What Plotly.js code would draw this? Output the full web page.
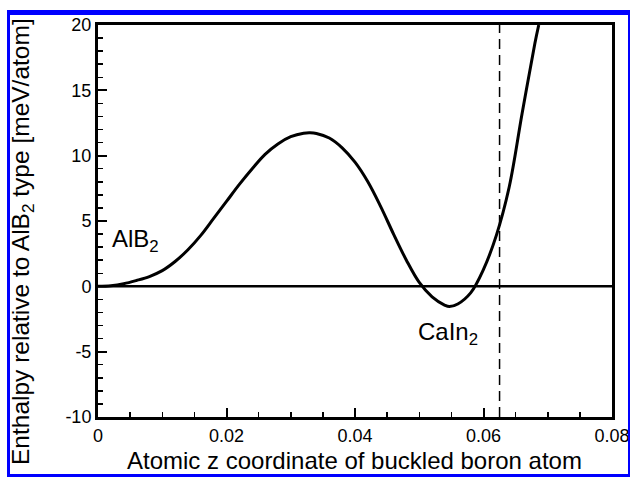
<!DOCTYPE html>
<html>
<head>
<meta charset="utf-8">
<script src="https://cdn.plot.ly/plotly-3.0.1.min.js"></script>
<style>
html,body{margin:0;padding:0;background:#fff;}
#chart{width:630px;height:477px;}
</style>
</head>
<body>
<div id="chart"></div>
<script>
// Buckled boron z coordinate vs enthalpy
const zCoord = [0, 0.002, 0.004, 0.006, 0.008, 0.010, 0.012, 0.014, 0.016, 0.018, 0.020, 0.022, 0.024, 0.026, 0.028, 0.030, 0.032, 0.033, 0.034, 0.036, 0.038, 0.040, 0.042, 0.044, 0.046, 0.048, 0.050, 0.052, 0.054, 0.0547, 0.056, 0.058, 0.060, 0.062, 0.064, 0.066, 0.068, 0.0686];
const enthalpy = [0, 0.05, 0.2, 0.45, 0.75, 1.2, 1.9, 2.8, 3.9, 5.2, 6.5, 7.8, 9.0, 10.1, 10.9, 11.45, 11.72, 11.75, 11.7, 11.35, 10.6, 9.5, 8.0, 6.1, 4.0, 2.0, 0.3, -0.8, -1.45, -1.55, -1.35, -0.5, 1.3, 3.9, 7.6, 13.2, 18.6, 20];
const dashedX = 0.0625;
const xTicks = [0, 0.02, 0.04, 0.06, 0.08];
const xTickText = ['0', '0.02', '0.04', '0.06', '0.08'];
const yTicks = [-10, -5, 0, 5, 10, 15, 20];
const yTickText = ['-10', '-5', '0', '5', '10', '15', '20'];
const labels = ['AlB<sub>2</sub>', 'CaIn<sub>2</sub>'];
const labelX = [0.0058, 0.0545];
const labelY = [3.5, -3.6];
const xTitle = 'Atomic z coordinate of buckled boron atom';
const yTitle = 'Enthalpy relative to AlB<sub>2</sub> type [meV/atom]';

const FONT = 'Liberation Sans, Arial, Helvetica, sans-serif';
// plot area pixel geometry (for border/title placement in paper coords)
const W = 630, H = 477, L = 98, R = 18, T = 25, B = 60;
const pw = W - L - R, ph = H - T - B;
const px = v => (v - L) / pw;
const py = v => (H - B - v) / ph;

const traces = [
  {x: zCoord, y: enthalpy, mode: 'lines', line: {color: '#000', width: 3, shape: 'spline', smoothing: 1}, hoverinfo: 'skip'}
];

const blue = '#0000ff';
const annotations = labels.map((t, i) => ({
  x: labelX[i], y: labelY[i], xref: 'x', yref: 'y', text: t, showarrow: false,
  font: {size: 24, family: FONT, color: '#000'}
}));
annotations.push({
  x: px(354), y: py(460), xref: 'paper', yref: 'paper', text: xTitle, showarrow: false,
  xanchor: 'center', yanchor: 'middle', font: {size: 24, family: FONT, color: '#000'}
});
annotations.push({
  x: px(22), y: py(242), xref: 'paper', yref: 'paper', text: yTitle, showarrow: false,
  textangle: -90, xanchor: 'center', yanchor: 'middle', font: {size: 24.5, family: FONT, color: '#000'}
});

const layout = {
  width: W, height: H,
  margin: {l: L, r: R, t: T, b: B, pad: 0},
  paper_bgcolor: '#fff', plot_bgcolor: '#fff',
  showlegend: false,
  font: {family: FONT, color: '#000'},
  xaxis: {
    range: [0, 0.08], tickvals: xTicks, ticktext: xTickText,
    ticks: 'inside', ticklen: 9, tickwidth: 2, tickcolor: '#000',
    minor: {dtick: 0.005, tick0: 0, ticks: 'inside', ticklen: 5, tickwidth: 1.5, tickcolor: '#000'},
    showgrid: false, zeroline: false,
    showline: true, linecolor: '#000', linewidth: 3, mirror: true,
    tickfont: {size: 18, family: FONT}
  },
  yaxis: {
    range: [-10, 20], tickvals: yTicks, ticktext: yTickText,
    ticks: 'inside', ticklen: 9, tickwidth: 2, tickcolor: '#000',
    minor: {dtick: 1, tick0: 0, ticks: 'inside', ticklen: 5, tickwidth: 1.5, tickcolor: '#000'},
    showgrid: false, zeroline: false,
    showline: true, linecolor: '#000', linewidth: 3, mirror: true,
    tickfont: {size: 18, family: FONT}
  },
  shapes: [
    {type: 'line', xref: 'paper', yref: 'y', x0: 0, x1: 1, y0: 0, y1: 0, line: {color: '#000', width: 2.5}},
    {type: 'line', xref: 'x', yref: 'paper', x0: dashedX, x1: dashedX, y0: 0, y1: 1, line: {color: '#000', width: 1.5, dash: '10px,6px'}},
    // blue outer frame
    {type: 'rect', xref: 'paper', yref: 'paper', x0: px(7), x1: px(630), y0: py(10), y1: py(15), fillcolor: blue, line: {width: 0}},
    {type: 'rect', xref: 'paper', yref: 'paper', x0: px(7), x1: px(10), y0: py(10), y1: py(477), fillcolor: blue, line: {width: 0}},
    {type: 'rect', xref: 'paper', yref: 'paper', x0: px(7), x1: px(630), y0: py(474), y1: py(477), fillcolor: blue, line: {width: 0}},
    {type: 'rect', xref: 'paper', yref: 'paper', x0: px(628), x1: px(630), y0: py(10), y1: py(477), fillcolor: blue, line: {width: 0}}
  ],
  annotations: annotations
};

Plotly.newPlot('chart', traces, layout, {displayModeBar: false, staticPlot: true});
</script>
</body>
</html>
